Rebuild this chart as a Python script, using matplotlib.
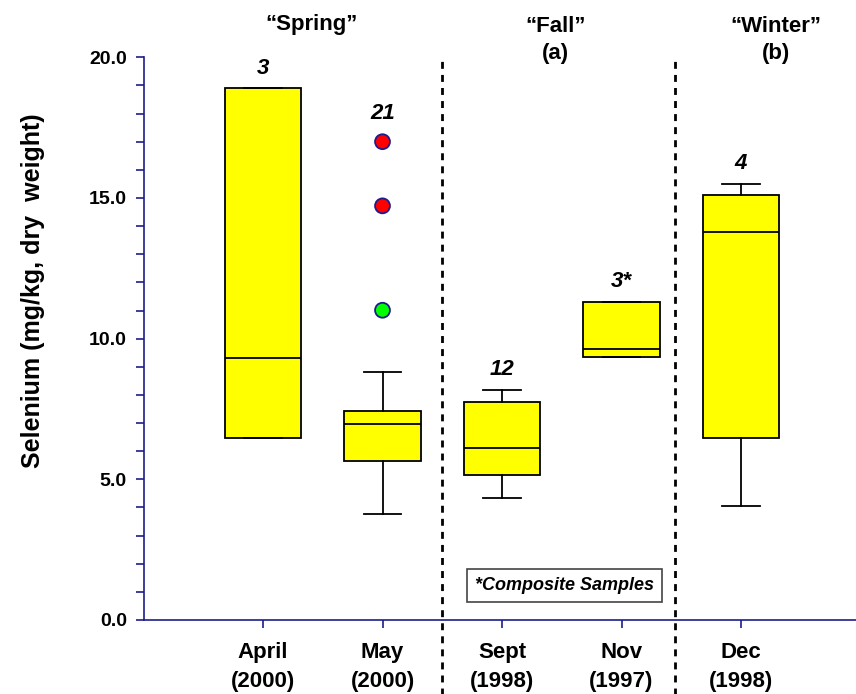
import matplotlib
matplotlib.use('Agg')
import matplotlib.pyplot as plt
from matplotlib.ticker import MultipleLocator

plt.rcParams['font.family'] = ['Liberation Sans', 'DejaVu Sans']

months = ['April\n(2000)', 'May\n(2000)', 'Sept\n(1998)', 'Nov\n(1997)', 'Dec\n(1998)']
counts = ['3', '21', '12', '3*', '4']
q1 = [6.47, 5.65, 5.17, 9.35, 6.46]
med = [9.30, 6.96, 6.11, 9.64, 13.79]
q3 = [18.9, 7.44, 7.76, 11.30, 15.12]
whislo = [6.47, 3.78, 4.35, 9.35, 4.05]
whishi = [18.9, 8.82, 8.17, 11.30, 15.5]

outlier_vals = [17.0, 14.72, 11.01]
outlier_colors = ['#ff0000', '#ff0000', '#00ff00']

seasons = ['\u201cSpring\u201d', '\u201cFall\u201d\n(a)', '\u201cWinter\u201d\n(b)']

navy = '#1c1c8c'

fig = plt.figure(figsize=(8.56, 6.94), dpi=100)
ax = fig.add_axes([143.5 / 856, 1 - 620 / 694, 1 - 143.5 / 856, (620 - 57.3) / 694])

stats = []
for i in range(len(months)):
    stats.append({'q1': q1[i], 'med': med[i], 'q3': q3[i],
                  'whislo': whislo[i], 'whishi': whishi[i], 'fliers': []})
pos = list(range(1, len(months) + 1))
ax.bxp(stats, positions=pos, widths=0.644, capwidths=0.315, patch_artist=True,
       showfliers=False,
       boxprops=dict(facecolor='#ffff00', edgecolor='black', linewidth=1.3),
       medianprops=dict(color='black', linewidth=1.3),
       whiskerprops=dict(color='black', linewidth=1.3),
       capprops=dict(color='black', linewidth=1.3))

ax.scatter([2] * len(outlier_vals), outlier_vals, s=115, c=outlier_colors,
           edgecolors=navy, linewidths=1.3, zorder=4)

# sample counts above each box
for i, n in enumerate(counts):
    top = whishi[i]
    if i == 1:
        top = max(outlier_vals) + 0.27
    ax.annotate(n, (pos[i], top), xytext=(0, 7), textcoords='offset points',
                ha='center', va='bottom', fontsize=16, fontweight='bold',
                fontstyle='italic')

# season separators
for xv in [2.5, 4.45]:
    ax.axvline(xv, ymin=-0.135, ymax=1.003, color='black', lw=2,
               linestyle=(0, (2.5, 2.2)), clip_on=False)

ax.text(1.41, 21.15, seasons[0], ha='center', va='center', fontsize=16,
        fontweight='bold')
ax.text(3.45, 20.62, seasons[1], ha='center', va='center', fontsize=16,
        fontweight='bold', linespacing=1.4)
ax.text(5.29, 20.62, seasons[2], ha='center', va='center', fontsize=16,
        fontweight='bold', linespacing=1.4)

ax.text(3.52, 1.23, '*Composite Samples', ha='center', va='center', fontsize=13,
        fontweight='bold', fontstyle='italic',
        bbox=dict(boxstyle='square,pad=0.45', facecolor='white',
                  edgecolor='#444444', linewidth=1.2))

ax.set_xlim(0, (856 - 143.5) / 119.5)
ax.set_ylim(0, 20)
ax.set_xticks(pos)
ax.set_xticklabels(months, fontsize=16, fontweight='bold', linespacing=1.5)
ax.set_yticks([0, 5, 10, 15, 20])
ax.set_yticklabels(['0.0', '5.0', '10.0', '15.0', '20.0'], fontsize=14,
                   fontweight='bold')
ax.yaxis.set_minor_locator(MultipleLocator(1))

for s in ['top', 'right']:
    ax.spines[s].set_visible(False)
for s in ['left', 'bottom']:
    ax.spines[s].set_color(navy)
    ax.spines[s].set_linewidth(1.2)
ax.tick_params(axis='both', which='both', color=navy, width=1.2, length=6)
ax.tick_params(axis='y', pad=6)
ax.tick_params(axis='x', pad=10)

fig.text(33 / 856, 1 - 291 / 694, 'Selenium (mg/kg, dry  weight)', rotation=90,
         ha='center', va='center', fontsize=18, fontweight='bold')

fig.savefig('out.png', dpi=100)
